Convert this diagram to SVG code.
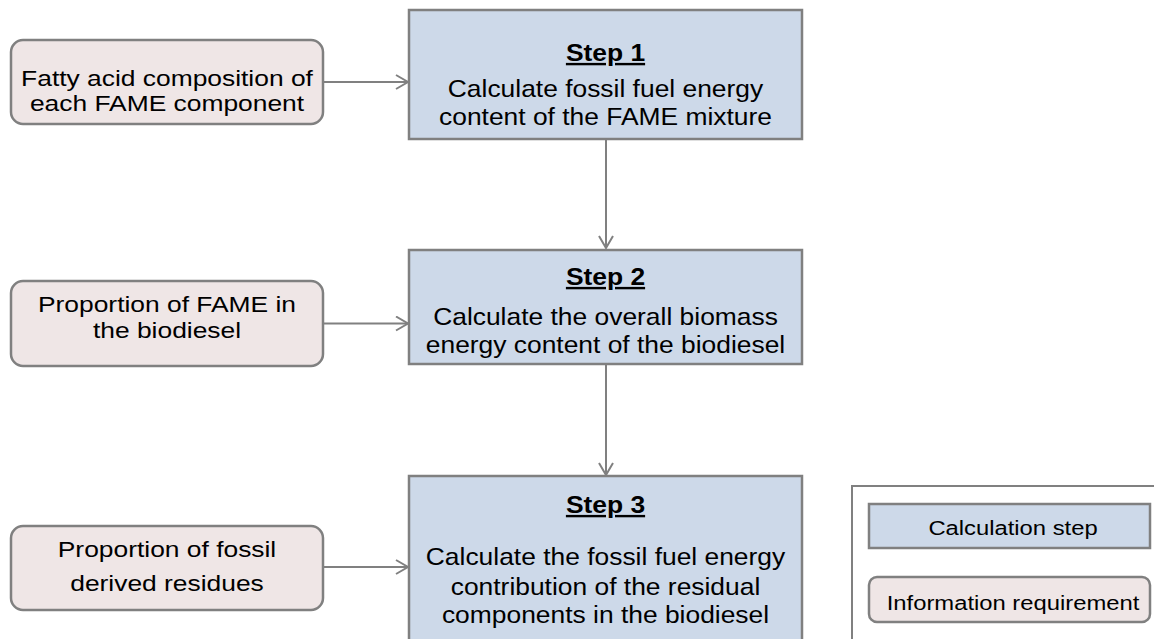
<svg xmlns="http://www.w3.org/2000/svg" width="1154" height="639" viewBox="0 0 1154 639">
<style>
.step{fill:#CDD9E9;stroke:#808080;stroke-width:2.5}
.info{fill:#EFE6E6;stroke:#808080;stroke-width:2.5}
.conn{stroke:#808080;stroke-width:2;fill:none}
text{font-family:"Liberation Sans",Arial,sans-serif;fill:#000;text-anchor:middle}
.t{font-size:24px}
.ti{font-size:22px}
.b{font-weight:bold;text-decoration:underline}
.lg{font-size:20px}
</style>
<defs>
<marker id="arr" markerWidth="16" markerHeight="16" refX="13" refY="8" orient="auto" markerUnits="userSpaceOnUse">
<path d="M1,1 L13,8 L1,15" fill="none" stroke="#808080" stroke-width="2"/>
</marker>
</defs>
<rect width="1154" height="639" fill="#fff"/>
<g id="connectors">
<line class="conn" x1="323" y1="82" x2="408" y2="82" marker-end="url(#arr)"/>
<line class="conn" x1="323" y1="323.5" x2="408" y2="323.5" marker-end="url(#arr)"/>
<line class="conn" x1="323" y1="567" x2="408" y2="567" marker-end="url(#arr)"/>
<line class="conn" x1="606" y1="139" x2="606" y2="248" marker-end="url(#arr)"/>
<line class="conn" x1="606" y1="364" x2="606" y2="475" marker-end="url(#arr)"/>
</g>
<g id="info1">
<rect class="info" x="11" y="40" width="312" height="84" rx="12"/>
<g transform="translate(167,0) scale(1.2,1)">
<text class="ti" x="0" y="86">Fatty acid composition of</text>
<text class="ti" x="0" y="111">each FAME component</text>
</g>
</g>
<g id="info2">
<rect class="info" x="11" y="281" width="312" height="85" rx="12"/>
<g transform="translate(167,0) scale(1.2,1)">
<text class="ti" x="0" y="312">Proportion of FAME in</text>
<text class="ti" x="0" y="338">the biodiesel</text>
</g>
</g>
<g id="info3">
<rect class="info" x="11" y="526" width="312" height="84" rx="12"/>
<g transform="translate(167,0) scale(1.2,1)">
<text class="ti" x="0" y="557">Proportion of fossil</text>
<text class="ti" x="0" y="591">derived residues</text>
</g>
</g>
<g id="step1">
<rect class="step" x="409" y="10" width="393" height="129"/>
<g transform="translate(605.5,0) scale(1.1,1)">
<text class="t b" x="0" y="61">Step 1</text>
<text class="t" x="0" y="97">Calculate fossil fuel energy</text>
<text class="t" x="0" y="125">content of the FAME mixture</text>
</g>
</g>
<g id="step2">
<rect class="step" x="409" y="250" width="393" height="114"/>
<g transform="translate(605.5,0) scale(1.1,1)">
<text class="t b" x="0" y="285">Step 2</text>
<text class="t" x="0" y="325">Calculate the overall biomass</text>
<text class="t" x="0" y="353">energy content of the biodiesel</text>
</g>
</g>
<g id="step3">
<rect class="step" x="409" y="476" width="393" height="180"/>
<g transform="translate(605.5,0) scale(1.1,1)">
<text class="t b" x="0" y="513">Step 3</text>
<text class="t" x="0" y="565">Calculate the fossil fuel energy</text>
<text class="t" x="0" y="595">contribution of the residual</text>
<text class="t" x="0" y="623">components in the biodiesel</text>
</g>
</g>
<g id="legend">
<polyline points="852,645 852,486 1160,486" fill="none" stroke="#808080" stroke-width="2"/>
<rect class="step" x="869" y="504" width="281" height="44"/>
<rect class="info" x="869" y="577" width="281" height="45" rx="8"/>
<g transform="translate(1013,0) scale(1.19,1)">
<text class="lg" x="0" y="535">Calculation step</text>
<text class="lg" x="0" y="610">Information requirement</text>
</g>
</g>
</svg>
